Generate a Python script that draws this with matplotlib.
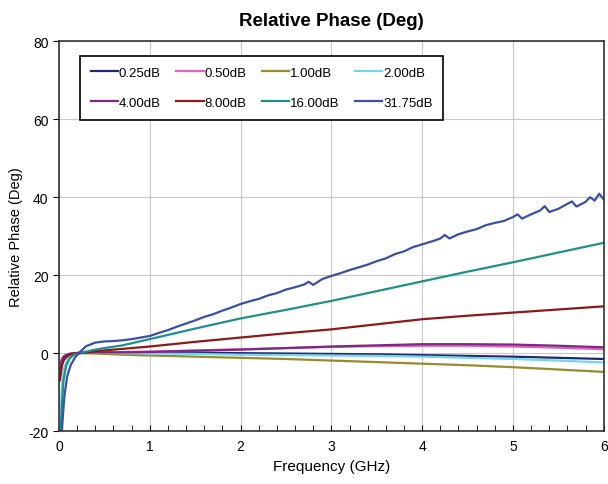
import matplotlib.pyplot as plt
from matplotlib.ticker import MultipleLocator

plt.rcParams['font.family'] = ['Liberation Sans', 'DejaVu Sans']
plt.rcParams['axes.unicode_minus'] = False

# Smooth curves share one frequency grid (GHz)
freq = [0.01, 0.03, 0.05, 0.08, 0.12, 0.17, 0.23, 0.3, 0.4, 0.5, 0.7, 1.0,
        1.5, 2.0, 2.5, 3.0, 3.5, 4.0, 4.5, 5.0, 5.5, 6.0]

ph_025 = [-6, -3, -1.8, -1, -0.5, -0.2, 0, 0.1, 0.2, 0.2, 0.2, 0.2,
          0.1, 0, -0.1, -0.2, -0.3, -0.5, -0.7, -0.9, -1.2, -1.5]
ph_050 = [-3, -1.5, -0.8, -0.4, -0.1, 0, 0.1, 0.1, 0.2, 0.2, 0.3, 0.4,
          0.7, 1.0, 1.3, 1.6, 1.8, 1.9, 1.9, 1.7, 1.4, 1.0]
ph_100 = [-4, -2, -1, -0.5, -0.2, 0, 0, 0, -0.1, -0.2, -0.4, -0.6,
          -0.9, -1.2, -1.5, -1.9, -2.3, -2.7, -3.1, -3.6, -4.2, -4.8]
ph_200 = [-24, -9, -4.5, -2.2, -0.9, -0.3, 0, 0.1, 0.1, 0.1, 0, -0.1,
          -0.2, -0.4, -0.5, -0.6, -0.7, -0.9, -1.2, -1.5, -1.9, -2.4]
ph_400 = [-4, -2, -1, -0.5, -0.2, 0, 0.1, 0.1, 0.2, 0.2, 0.2, 0.3,
          0.6, 0.9, 1.3, 1.7, 2.0, 2.3, 2.3, 2.2, 1.9, 1.5]
ph_800 = [-7, -3.5, -1.8, -0.9, -0.4, -0.1, 0, 0.2, 0.5, 0.7, 1.1, 1.7,
          2.9, 4.0, 5.1, 6.1, 7.4, 8.7, 9.6, 10.4, 11.2, 12.0]
ph_1600 = [-26, -14, -7, -3.2, -1.3, -0.3, 0, 0.4, 0.9, 1.3, 2.0, 3.6,
           6.3, 8.9, 11.1, 13.4, 15.9, 18.4, 20.9, 23.3, 25.8, 28.3]

# 31.75 dB trace is noisy, read on a finer grid
freq_3175 = [0.01, 0.02, 0.04, 0.06, 0.09, 0.13, 0.18, 0.23, 0.3, 0.4, 0.5,
             0.6, 0.7, 0.8, 0.9, 1.0, 1.1, 1.2, 1.3, 1.4, 1.5, 1.6, 1.7, 1.8,
             1.9, 2.0, 2.1, 2.2, 2.3, 2.4, 2.5, 2.6, 2.7, 2.75, 2.8, 2.9, 3.0,
             3.1, 3.2, 3.3, 3.4, 3.5, 3.6, 3.7, 3.8, 3.9, 4.0, 4.1, 4.2, 4.25,
             4.3, 4.4, 4.5, 4.6, 4.7, 4.8, 4.9, 5.0, 5.05, 5.1, 5.2, 5.3, 5.35,
             5.4, 5.5, 5.6, 5.65, 5.7, 5.8, 5.85, 5.9, 5.95, 6.0]
ph_3175 = [-30, -25, -17, -11, -6, -3, -1, 0.3, 1.8, 2.7, 3.0,
           3.1, 3.3, 3.6, 4.0, 4.4, 5.2, 5.9, 6.8, 7.6, 8.4, 9.3, 10.0, 10.9,
           11.7, 12.6, 13.3, 13.9, 14.8, 15.4, 16.3, 16.9, 17.6, 18.3, 17.5,
           19.0, 19.8, 20.5, 21.3, 22.0, 22.7, 23.6, 24.3, 25.4, 26.1, 27.2,
           27.9, 28.6, 29.4, 30.3, 29.4, 30.5, 31.2, 31.8, 32.8, 33.4, 33.9,
           34.9, 35.6, 34.5, 35.6, 36.6, 37.7, 36.2, 37.0, 38.3, 38.9, 37.6,
           38.8, 40.0, 39.1, 40.9, 39.4]

labels = ['0.25dB', '0.50dB', '1.00dB', '2.00dB',
          '4.00dB', '8.00dB', '16.00dB', '31.75dB']
colors = ['#1f2a6e', '#e060c0', '#9a8a30', '#78d4ea',
          '#7a2a80', '#8b1a1a', '#20908a', '#3a4fa8']

fig = plt.figure(figsize=(6.08, 4.85), dpi=100)
ax = fig.add_axes([0.097, 0.109, 0.896, 0.804])

series = [ph_025, ph_050, ph_100, ph_200, ph_400, ph_800, ph_1600]
handles = []
for ph, lab, col in zip(series, labels[:7], colors[:7]):
    h, = ax.plot(freq, ph, color=col, linewidth=1.6, label=lab)
    handles.append(h)
h, = ax.plot(freq_3175, ph_3175, color=colors[7], linewidth=1.6, label=labels[7])
handles.append(h)

ax.set_xlim(0, 6)
ax.set_ylim(-20, 80)
ax.xaxis.set_major_locator(MultipleLocator(1))
ax.xaxis.set_minor_locator(MultipleLocator(0.2))
ax.yaxis.set_major_locator(MultipleLocator(20))
ax.tick_params(axis='x', which='both', direction='in', length=4, labelsize=10, pad=6)
ax.tick_params(axis='y', direction='out', length=4, labelsize=10)
ax.grid(True, color='#c8c8c8', linewidth=0.8)
ax.set_axisbelow(True)
for s in ax.spines.values():
    s.set_color('#333333')
    s.set_linewidth(1.2)

ax.set_xlabel('Frequency (GHz)', fontsize=11)
ax.set_ylabel('Relative Phase (Deg)', fontsize=10.5)
ax.set_title('Relative Phase (Deg)', fontsize=13.5, fontweight='bold', pad=12)

# legend fills row by row in the reference
order = [0, 4, 1, 5, 2, 6, 3, 7]
leg = ax.legend([handles[i] for i in order], [labels[i] for i in order],
                ncol=4, loc='upper left', bbox_to_anchor=(0.0385, 0.9615),
                fontsize=9.5, frameon=True, fancybox=False, framealpha=1,
                edgecolor='black', handlelength=2.1, handletextpad=0.05,
                columnspacing=1.15, borderpad=0.8, labelspacing=1.35,
                borderaxespad=0)
leg.get_frame().set_linewidth(1.2)

plt.savefig('out.png', dpi=100)
